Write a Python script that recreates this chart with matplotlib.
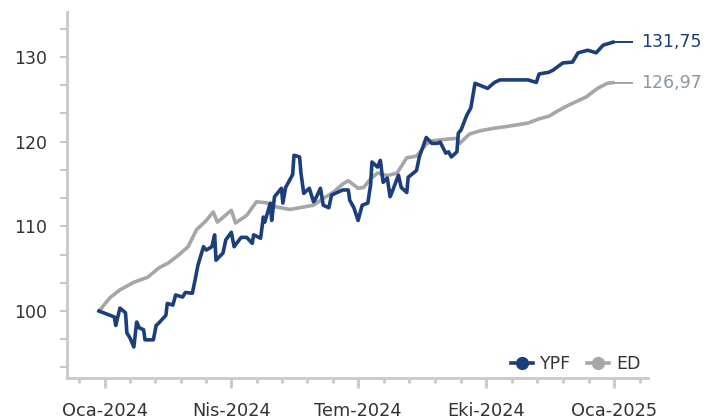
import numpy as np
import pandas as pd
import matplotlib
matplotlib.use('Agg')
import matplotlib.pyplot as plt
import matplotlib.dates as mdates
from matplotlib.ticker import MultipleLocator, FixedLocator

# values (index, start = 100)
ypf_dates = ['2023-12-28', '2024-01-08', '2024-01-09', '2024-01-12', '2024-01-16', '2024-01-17',
             '2024-01-19', '2024-01-22', '2024-01-24', '2024-01-26', '2024-01-29', '2024-01-30',
             '2024-02-05', '2024-02-07', '2024-02-09', '2024-02-14', '2024-02-15', '2024-02-19',
             '2024-02-21', '2024-02-26', '2024-02-28', '2024-03-04', '2024-03-06', '2024-03-08',
             '2024-03-12', '2024-03-14', '2024-03-18', '2024-03-20', '2024-03-21', '2024-03-26',
             '2024-03-28', '2024-04-01', '2024-04-03', '2024-04-08', '2024-04-12', '2024-04-16',
             '2024-04-17', '2024-04-22', '2024-04-24', '2024-04-25', '2024-04-29', '2024-04-30',
             '2024-05-02', '2024-05-07', '2024-05-08', '2024-05-10', '2024-05-15', '2024-05-16',
             '2024-05-20', '2024-05-21', '2024-05-23', '2024-05-27', '2024-05-30', '2024-05-31',
             '2024-06-04', '2024-06-06', '2024-06-10', '2024-06-12', '2024-06-20', '2024-06-24',
             '2024-06-25', '2024-06-28', '2024-07-01', '2024-07-04', '2024-07-08', '2024-07-10',
             '2024-07-11', '2024-07-15', '2024-07-17', '2024-07-19', '2024-07-22', '2024-07-24',
             '2024-07-26', '2024-07-30', '2024-08-01', '2024-08-05', '2024-08-06', '2024-08-12',
             '2024-08-14', '2024-08-19', '2024-08-23', '2024-08-27', '2024-08-29', '2024-09-02',
             '2024-09-04', '2024-09-06', '2024-09-10', '2024-09-11', '2024-09-13', '2024-09-17',
             '2024-09-19', '2024-09-20', '2024-09-23', '2024-09-26', '2024-10-02', '2024-10-07',
             '2024-10-11', '2024-10-21', '2024-10-31', '2024-11-06', '2024-11-08', '2024-11-15',
             '2024-11-18', '2024-11-25', '2024-12-02', '2024-12-06', '2024-12-13', '2024-12-19',
             '2024-12-24', '2024-12-31']
ypf_values = [100.0, 99.3, 98.3, 100.35, 99.8, 97.4,
              96.9, 95.75, 98.7, 98.0, 97.8, 96.6,
              96.6, 98.3, 98.6, 99.5, 100.9, 100.7,
              101.9, 101.65, 102.2, 102.1, 103.7, 105.4,
              107.6, 107.2, 107.6, 109.0, 106.0, 106.85,
              108.4, 109.3, 107.6, 108.7, 108.7, 108.0,
              109.0, 108.6, 111.1, 110.5, 112.75, 110.7,
              113.5, 114.5, 112.75, 114.6, 116.1, 118.4,
              118.2, 116.3, 113.9, 114.5, 112.9, 113.1,
              114.5, 112.5, 112.2, 113.7, 114.3, 114.3,
              113.1, 112.2, 110.7, 112.5, 112.75, 114.9,
              117.6, 117.0, 117.8, 115.2, 115.7, 113.5,
              114.3, 116.05, 114.6, 114.0, 115.8, 116.6,
              118.2, 120.5, 119.8, 119.8, 119.95, 118.65,
              118.8, 118.2, 118.8, 121.0, 121.4, 123.1,
              123.7, 124.0, 126.9, 126.7, 126.3, 127.0,
              127.3, 127.3, 127.3, 127.0, 128.0, 128.2,
              128.45, 129.3, 129.4, 130.5, 130.8, 130.5,
              131.4, 131.75]

ed_dates = ['2023-12-28', '2024-01-05', '2024-01-12', '2024-01-22', '2024-02-01', '2024-02-09',
            '2024-02-16', '2024-02-23', '2024-03-01', '2024-03-07', '2024-03-14', '2024-03-19',
            '2024-03-22', '2024-04-01', '2024-04-04', '2024-04-12', '2024-04-19', '2024-04-26',
            '2024-05-03', '2024-05-13', '2024-05-20', '2024-05-30', '2024-06-07', '2024-06-13',
            '2024-06-20', '2024-06-24', '2024-07-01', '2024-07-05', '2024-07-10', '2024-07-15',
            '2024-07-22', '2024-07-29', '2024-08-05', '2024-08-12', '2024-08-19', '2024-08-23',
            '2024-09-03', '2024-09-10', '2024-09-12', '2024-09-19', '2024-09-27', '2024-10-07',
            '2024-10-16', '2024-10-31', '2024-11-08', '2024-11-15', '2024-11-21', '2024-11-29',
            '2024-12-12', '2024-12-20', '2024-12-27', '2024-12-31']
ed_values = [100.0, 101.6, 102.5, 103.4, 104.0, 105.1,
             105.7, 106.6, 107.6, 109.6, 110.7, 111.7,
             110.5, 111.9, 110.4, 111.3, 112.9, 112.8,
             112.3, 112.0, 112.2, 112.5, 113.4, 114.0,
             115.0, 115.4, 114.5, 114.6, 115.6, 116.3,
             116.0, 116.3, 118.1, 118.3, 119.7, 120.1,
             120.3, 120.4, 119.8, 120.9, 121.3, 121.6,
             121.8, 122.2, 122.7, 123.0, 123.6, 124.3,
             125.3, 126.3, 126.9, 126.97]

tick_dates = ['2024-01-01', '2024-04-01', '2024-07-01', '2024-10-01', '2025-01-01']
tick_labels = ['Oca-2024', 'Nis-2024', 'Tem-2024', 'Eki-2024', 'Oca-2025']

navy = '#1b3f7a'
grey = '#a6a6a8'
grey_lbl = '#8a96a3'
axis_col = '#c8c8c8'
txt_col = '#333333'

plt.rcParams['font.family'] = ['DejaVu Sans']

fig = plt.figure(figsize=(7.16, 4.19), dpi=100)
ax = fig.add_axes([0.0936, 0.098, 0.811, 0.873])

ypf_x = pd.to_datetime(ypf_dates)
ed_x = pd.to_datetime(ed_dates)

ax.plot(ed_x, ed_values, color=grey, lw=2.6, solid_joinstyle='round', label='ED')
ax.plot(ypf_x, ypf_values, color=navy, lw=2.6, solid_joinstyle='round', label='YPF')

# end labels with short connector
end_pad = pd.Timedelta(days=14)
for xs, vals, c, tc in [(ypf_x, ypf_values, navy, navy), (ed_x, ed_values, grey, grey_lbl)]:
    ax.plot([xs[-1], xs[-1] + end_pad], [vals[-1], vals[-1]], color=c, lw=1.4)
    ax.text(xs[-1] + end_pad + pd.Timedelta(days=6), vals[-1],
            f'{vals[-1]:.2f}'.replace('.', ','), color=tc, fontsize=12.5,
            va='center', ha='left', clip_on=False)

ax.set_xlim(pd.Timestamp('2023-12-05'), pd.Timestamp('2025-01-25'))
ax.set_ylim(92.1, 135.3)

major = pd.to_datetime(tick_dates)
ax.set_xticks(major)
ax.set_xticklabels(tick_labels)
minor = []
for a, b in zip(major[:-1], major[1:]):
    step = (b - a) / 5
    minor += [a + step * k for k in range(1, 5)]
q = (major[1] - major[0]) / 5
minor = [major[0] - q] + minor + [major[-1] + q]
ax.xaxis.set_minor_locator(FixedLocator(mdates.date2num(minor)))

ax.set_yticks([100, 110, 120, 130])
ax.yaxis.set_minor_locator(MultipleLocator(10 / 3))

for s in ['top', 'right']:
    ax.spines[s].set_visible(False)
for s in ['left', 'bottom']:
    ax.spines[s].set_color(axis_col)
    ax.spines[s].set_linewidth(2)

ax.tick_params(axis='x', which='major', length=7, width=2, color=axis_col,
               labelsize=12.8, labelcolor=txt_col, pad=10)
ax.tick_params(axis='x', which='minor', length=3.5, width=2, color=axis_col)
ax.tick_params(axis='y', which='both', length=5, width=1.5, color=axis_col,
               labelsize=12.5, labelcolor=txt_col, pad=9)

leg_handles = [plt.Line2D([], [], color=navy, lw=2.6, marker='o', ms=8.5),
               plt.Line2D([], [], color=grey, lw=2.6, marker='o', ms=8.5)]
ax.legend(leg_handles, ['YPF', 'ED'], loc='lower right', frameon=False, ncol=2,
          fontsize=12.5, handlelength=1.3, handletextpad=0.4, columnspacing=0.9,
          bbox_to_anchor=(1.015, -0.03), labelcolor=txt_col)

fig.savefig('out.png', dpi=100)
